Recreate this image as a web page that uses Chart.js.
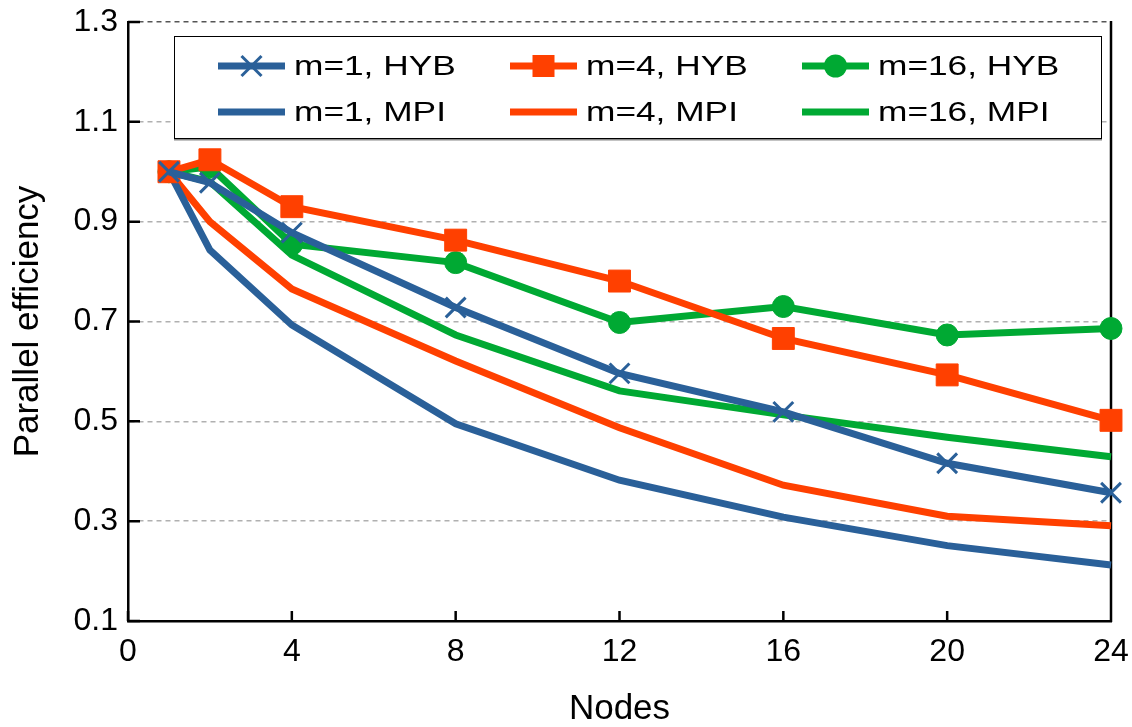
<!DOCTYPE html>
<html>
<head>
<meta charset="utf-8">
<script src="https://cdn.jsdelivr.net/npm/chart.js@4.4.1/dist/chart.umd.min.js"></script>
<style>
  body { margin: 0; background: #fff; }
  #wrap { position: relative; width: 1132px; height: 727px; }
  #legend {
    position: absolute; left: 174px; top: 36px; width: 926px; height: 101px;
    border: 1.5px solid #000; box-shadow: 0 1.5px 0 #888; background: #fff;
    font-family: "Liberation Sans", Arial, sans-serif; font-size: 28px; color: #000;
  }
  .item { position: absolute; height: 30px; display: flex; align-items: center; white-space: nowrap; }
  .item svg { margin-right: 9px; }
  .item span { display: inline-block; transform: scaleX(1.26); transform-origin: left center; }
</style>
</head>
<body>
<div id="wrap">
  <canvas id="effChart" width="1132" height="727"></canvas>
  <div id="legend"></div>
</div>
<script>
const nodes = [1, 2, 4, 8, 12, 16, 20, 24];

const hybM1  = [1.0, 0.978, 0.878, 0.728, 0.596, 0.519, 0.416, 0.357];
const hybM4  = [1.0, 1.024, 0.930, 0.863, 0.781, 0.666, 0.593, 0.502];
const hybM16 = [1.0, 1.010, 0.855, 0.818, 0.698, 0.730, 0.673, 0.686];
const mpiM1  = [1.0, 0.843, 0.693, 0.495, 0.382, 0.308, 0.251, 0.212];
const mpiM4  = [1.0, 0.900, 0.765, 0.621, 0.487, 0.372, 0.310, 0.291];
const mpiM16 = [1.0, 0.980, 0.833, 0.673, 0.561, 0.513, 0.468, 0.429];

const labels = ['m=1, HYB', 'm=4, HYB', 'm=16, HYB', 'm=1, MPI', 'm=4, MPI', 'm=16, MPI'];
const yTicks = [0.1, 0.3, 0.5, 0.7, 0.9, 1.1, 1.3];

const BLUE = '#2a6099';
const ORANGE = '#ff4000';
const GREEN = '#00a933';
const FONT = '"Liberation Sans", Arial, sans-serif';

function toPoints(vals) {
  return nodes.map((n, i) => ({ x: n, y: vals[i] }));
}

function series(label, vals, color, marker) {
  const ds = {
    label: label,
    data: toPoints(vals),
    borderColor: color,
    backgroundColor: color,
    borderWidth: 7,
    tension: 0,
    clip: false,
    pointRadius: 0,
    pointHoverRadius: 0
  };
  if (marker === 'cross') {
    ds.pointStyle = 'crossRot';
    ds.pointRadius = 14;
    ds.pointBorderWidth = 3;
  } else if (marker === 'square') {
    ds.pointStyle = 'rect';
    ds.pointRadius = 15.5;
    ds.pointBorderWidth = 1;
  } else if (marker === 'circle') {
    ds.pointStyle = 'circle';
    ds.pointRadius = 11;
    ds.pointBorderWidth = 1;
  }
  ds.marker = marker;
  return ds;
}

const datasets = [
  series(labels[0], hybM1, BLUE, 'cross'),
  series(labels[1], hybM4, ORANGE, 'square'),
  series(labels[2], hybM16, GREEN, 'circle'),
  series(labels[3], mpiM1, BLUE, null),
  series(labels[4], mpiM4, ORANGE, null),
  series(labels[5], mpiM16, GREEN, null)
];

// right frame line and inward ticks
const frameTicks = {
  id: 'frameTicks',
  beforeDatasetsDraw(chart) {
    const { ctx, chartArea: a, scales: { x, y } } = chart;
    ctx.save();
    ctx.strokeStyle = '#000';
    ctx.lineWidth = 2.5;
    ctx.beginPath();
    ctx.moveTo(a.right, a.top - 1);
    ctx.lineTo(a.right, a.bottom + 1);
    y.ticks.forEach(t => {
      const py = y.getPixelForValue(t.value);
      ctx.moveTo(a.left, py);
      ctx.lineTo(a.left + 12, py);
    });
    x.ticks.forEach(t => {
      const px = x.getPixelForValue(t.value);
      ctx.moveTo(px, a.bottom);
      ctx.lineTo(px, a.bottom - 10);
    });
    ctx.stroke();
    ctx.restore();
  }
};

new Chart(document.getElementById('effChart').getContext('2d'), {
  type: 'line',
  data: { datasets: datasets },
  options: {
    responsive: false,
    animation: false,
    events: [],
    layout: { padding: { top: 22, right: 21, left: 0, bottom: 0 } },
    plugins: {
      legend: { display: false },
      tooltip: { enabled: false }
    },
    scales: {
      x: {
        type: 'linear',
        min: 0,
        max: 24,
        afterFit: s => { s.height = 106; s.paddingLeft = 0; s.paddingRight = 0; },
        ticks: {
          stepSize: 4,
          color: '#000',
          padding: 12,
          font: { family: FONT, size: 32 }
        },
        grid: { display: true, drawOnChartArea: false, drawTicks: false },
        border: { display: true, color: '#000', width: 2.5 },
        title: {
          display: true,
          text: 'Nodes',
          color: '#000',
          padding: { top: 0, bottom: 0 },
          font: { family: FONT, size: 35, lineHeight: 1 }
        }
      },
      y: {
        type: 'linear',
        min: 0.1,
        max: 1.3,
        afterFit: s => { s.width = 128; s.paddingTop = 0; s.paddingBottom = 0; },
        afterBuildTicks: s => { s.ticks = yTicks.map(v => ({ value: v })); },
        ticks: {
          color: '#000',
          padding: 10,
          font: { family: FONT, size: 32 },
          callback: v => v.toFixed(1)
        },
        grid: {
          drawTicks: false,
          lineWidth: 1.5,
          color: c => (c.index === yTicks.length - 1 ? '#555555' : '#b0b0b0')
        },
        border: { display: true, color: '#000', width: 2.5, dash: [5, 4] },
        title: {
          display: true,
          text: 'Parallel efficiency',
          color: '#000',
          padding: { top: 11, bottom: 0 },
          font: { family: FONT, size: 35, lineHeight: 1 }
        }
      }
    }
  },
  plugins: [frameTicks]
});

// legend box built from the datasets
function symbolSvg(ds) {
  let m = '';
  const c = ds.borderColor;
  if (ds.marker === 'cross') {
    m = `<line x1="23.5" y1="5" x2="43.5" y2="25" stroke="${c}" stroke-width="3"/>` +
        `<line x1="43.5" y1="5" x2="23.5" y2="25" stroke="${c}" stroke-width="3"/>`;
  } else if (ds.marker === 'square') {
    m = `<rect x="22.5" y="4" width="22" height="22" fill="${c}"/>`;
  } else if (ds.marker === 'circle') {
    m = `<circle cx="33.5" cy="15" r="11.5" fill="${c}"/>`;
  }
  return `<svg width="67" height="30"><line x1="0" y1="15" x2="67" y2="15" stroke="${c}" stroke-width="7"/>${m}</svg>`;
}

const legendEl = document.getElementById('legend');
const colLeft = [43, 335, 627];
const rowTop = [14, 60];
datasets.forEach((ds, i) => {
  const item = document.createElement('div');
  item.className = 'item';
  item.style.left = colLeft[i % 3] + 'px';
  item.style.top = rowTop[Math.floor(i / 3)] + 'px';
  item.innerHTML = symbolSvg(ds) + '<span>' + ds.label + '</span>';
  legendEl.appendChild(item);
});
</script>
</body>
</html>
